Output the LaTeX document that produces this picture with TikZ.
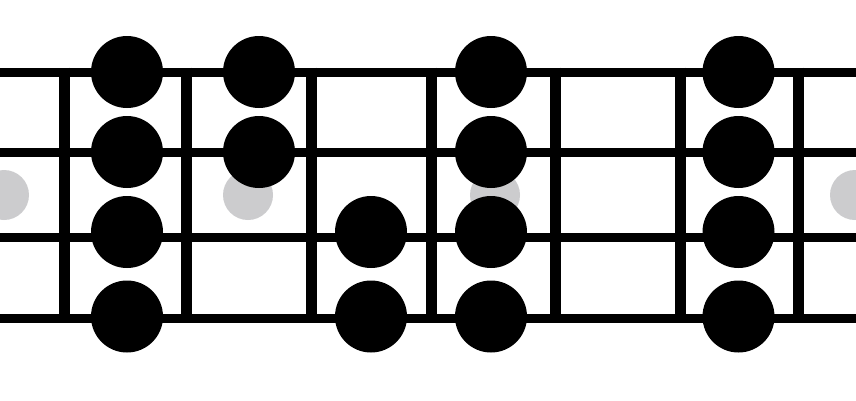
\documentclass[tikz,border=0pt]{standalone}
\definecolor{markgray}{RGB}{204,204,206}
\tikzset{
  stringline/.style={line width=9pt},
  fretline/.style={line width=11pt},
  note/.style={circle,fill=black,minimum size=72pt,inner sep=0pt},
  inlay/.style={circle,fill=markgray,minimum size=50pt,inner sep=0pt},
}
\begin{document}
\begin{tikzpicture}[x=1pt,y=-1pt]
\useasboundingbox (0,0) rectangle (856,400);
\fill[white] (0,0) rectangle (856,400);
% strings
\foreach \s/\y in {1/72,2/152.5,3/237.5,4/318.5}{
  \coordinate (sl\s) at (0,\y);
  \coordinate (sr\s) at (856,\y);
  \draw[stringline] (sl\s) -- (sr\s);
}
% frets
\foreach \f/\x in {1/64,2/186,3/311.5,4/431.5,5/555,6/680,7/798.5}{
  \coordinate (ft\f) at (\x,67.5);
  \coordinate (fb\f) at (\x,323);
  \draw[fretline] (ft\f) -- (fb\f);
}
% inlays
\node[inlay] (g1) at (4,195) {};
\node[inlay] (g2) at (248,195) {};
\node[inlay] (g3) at (495,195) {};
\node[inlay] (g4) at (855,195) {};
% notes
\node[note] (a1) at (127,72) {};
\node[note] (a2) at (127,152) {};
\node[note] (a3) at (127,232) {};
\node[note] (a4) at (127,316.5) {};
\node[note] (b1) at (259,72) {};
\node[note] (b2) at (259,152) {};
\node[note] (c3) at (371,232) {};
\node[note] (c4) at (371,316.5) {};
\node[note] (d1) at (491,72) {};
\node[note] (d2) at (491,152) {};
\node[note] (d3) at (491,232) {};
\node[note] (d4) at (491,316.5) {};
\node[note] (e1) at (738.5,72) {};
\node[note] (e2) at (738.5,152) {};
\node[note] (e3) at (738.5,232) {};
\node[note] (e4) at (738.5,316.5) {};
\end{tikzpicture}
\end{document}
